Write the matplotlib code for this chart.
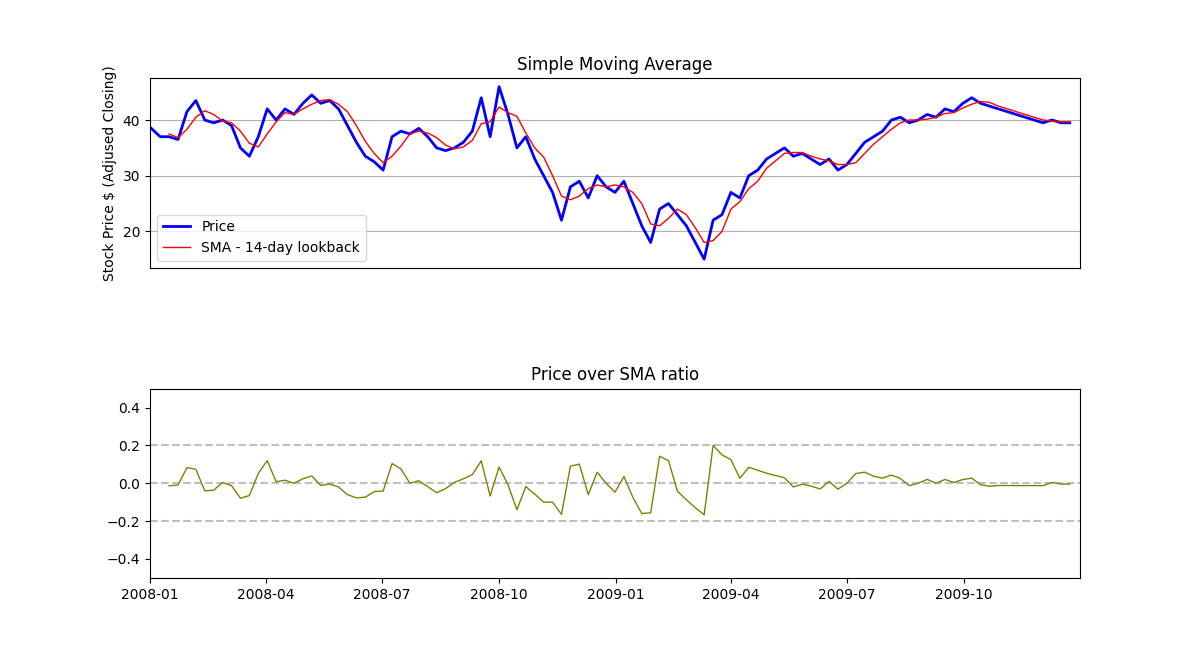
import matplotlib
matplotlib.use("Agg")
import matplotlib.pyplot as plt
import pandas as pd

# weekly adjusted close
prices = [38.5, 37, 37, 36.5, 41.5,
          43.5, 40, 39.5, 40,
          39, 35, 33.5, 37,
          42, 40, 42, 41, 43,
          44.5, 43, 43.5, 42,
          39, 36, 33.5, 32.5,
          31, 37, 38, 37.5, 38.5,
          37, 35, 34.5, 35,
          36, 38, 44, 37,
          46, 41, 35, 37, 33,
          30, 27, 22, 28,
          29, 26, 30, 28,
          27, 29, 25, 21, 18,
          24, 25, 23, 21,
          18, 15, 22, 23,
          27, 26, 30, 31, 33,
          34, 35, 33.5, 34,
          33, 32, 33, 31,
          32, 34, 36, 37, 38,
          40, 40.5, 39.5, 40,
          41, 40.5, 42, 41.5,
          43, 44, 43, 42.5, 42,
          41.5, 41, 40.5, 40,
          39.5, 40, 39.5, 39.5]
lookback = 3  # weeks, roughly 14 trading days

dates = pd.date_range("2008-01-02", periods=len(prices), freq="W-WED")
price = pd.Series(prices, index=dates)
sma = price.rolling(lookback).mean()
ratio = price / sma - 1

fig = plt.figure(figsize=(12, 6.5), dpi=100)
ax1 = fig.add_axes([0.125, 0.588, 0.775, 0.292])
ax2 = fig.add_axes([0.125, 0.111, 0.775, 0.291])

ax1.plot(price.index, price.values, color="blue", lw=2, label="Price")
ax1.plot(sma.index, sma.values, color="red", lw=1, label="SMA - 14-day lookback")
ax1.set_title("Simple Moving Average")
ax1.set_ylabel("Stock Price $ (Adjused Closing)")
ax1.grid(axis="y")
ax1.set_xticks([])
ax1.legend(loc="lower left")
xl = (pd.Timestamp("2008-01-01"), pd.Timestamp("2009-12-31"))
ax1.set_xlim(xl)

ax2.plot(ratio.index, ratio.values, color="olive", lw=1)
for y in (-0.2, 0, 0.2):
    ax2.axhline(y, color="gray", ls="--", alpha=0.5)
ax2.set_title("Price over SMA ratio")
ax2.set_ylim(-0.5, 0.5)
ax2.set_yticks([-0.4, -0.2, 0.0, 0.2, 0.4])
ax2.set_xlim(xl)
ticks = pd.date_range("2008-01-01", "2009-10-01", freq="3MS")
ax2.set_xticks(ticks)
ax2.set_xticklabels([t.strftime("%Y-%m") for t in ticks])

fig.savefig("out.png")
